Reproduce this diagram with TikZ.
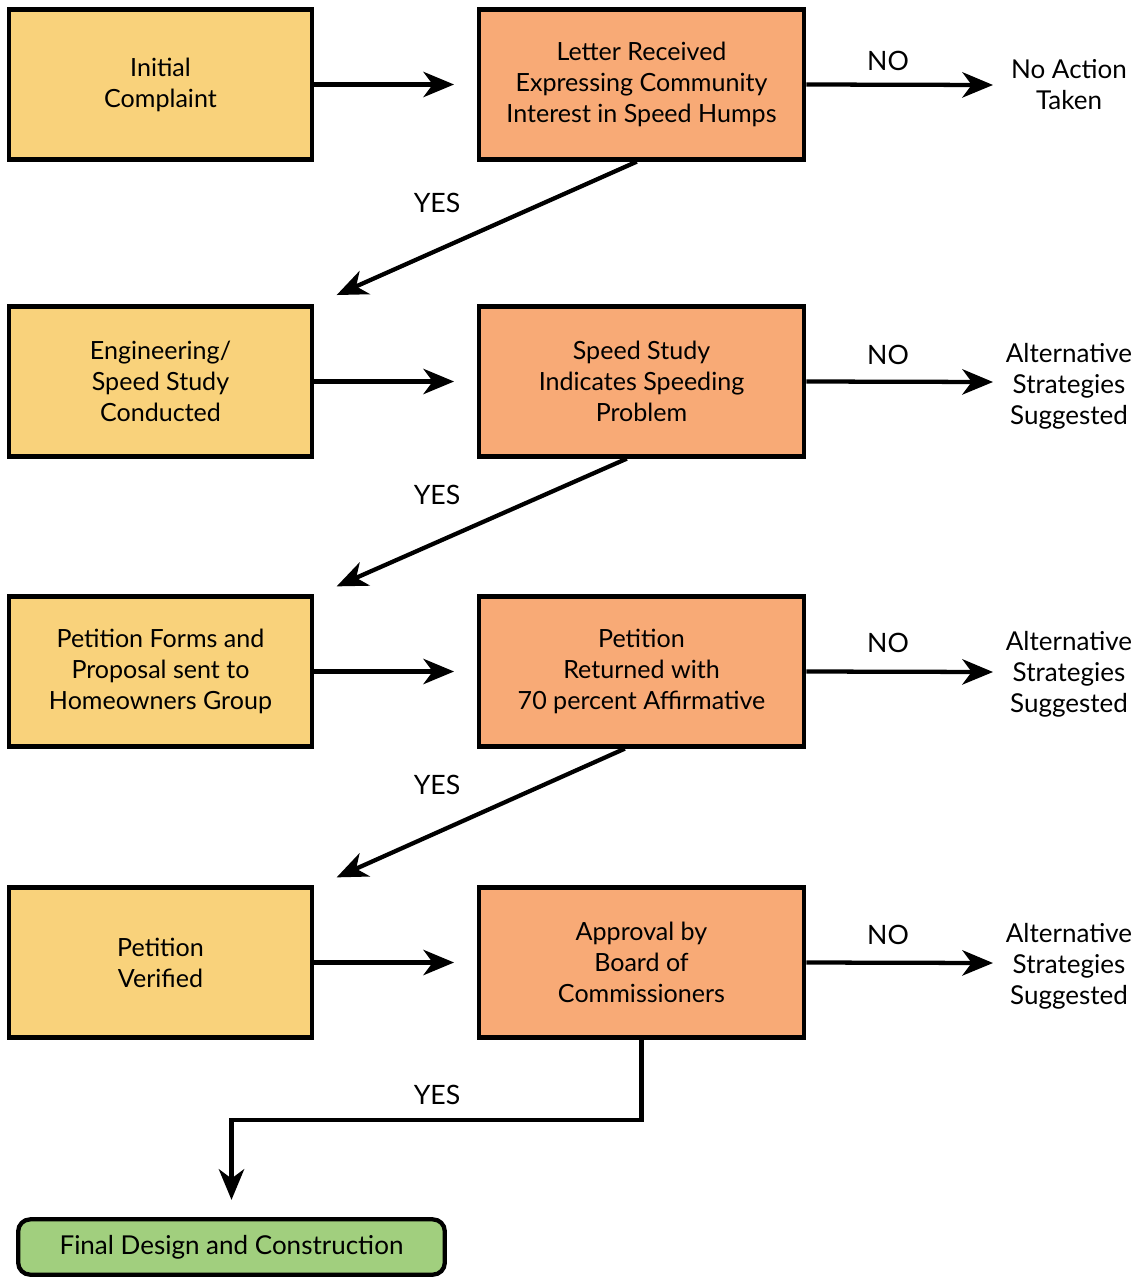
\documentclass[tikz,border=0pt]{standalone}
\usepackage{fontspec}
\setmainfont{Lato}
\usetikzlibrary{arrows.meta}
\definecolor{cyel}{HTML}{F9D27B}
\definecolor{corg}{HTML}{F8AA76}
\definecolor{cgrn}{HTML}{A1CF7E}
\tikzset{
  box/.style={draw=black, line width=3.2pt, align=center, inner sep=0pt,
    font=\fontsize{18.8pt}{23.25pt}\selectfont},
  ybox/.style={box, fill=cyel, minimum width=227pt, minimum height=112.5pt},
  obox/.style={box, fill=corg, minimum width=244pt, minimum height=112.5pt},
  gbox/.style={box, fill=cgrn, minimum width=320pt, minimum height=41.5pt, rounded corners=9pt,
    font=\fontsize{19.5pt}{23.25pt}\selectfont},
  lbl/.style={align=center, inner sep=0pt, font=\fontsize{19.5pt}{23.25pt}\selectfont},
  yn/.style={inner sep=0pt, font=\fontsize{20pt}{24pt}\selectfont},
  arr/.style={line width=3.2pt, -{Stealth[length=23pt, width=19pt, inset=7pt]}},
}
\begin{document}
\begin{tikzpicture}[x=0.75pt, y=-0.75pt]
\useasboundingbox (0,0) rectangle (1139,1277);
% left column
\node[ybox] (a1) at (160.5,84.5) {Initial\\Complaint};
\node[ybox] (a2) at (160.5,381.5) {Engineering/\\Speed Study\\Conducted};
\node[ybox] (a3) at (160.5,671.5) {Petition Forms and\\Proposal sent to\\Homeowners Group};
\node[ybox] (a4) at (160.5,962.5) {Petition\\Verified};
% decision column
\node[obox] (b1) at (641.5,84.5) {Letter Received\\Expressing Community\\Interest in Speed Humps};
\node[obox] (b2) at (641.5,381.5) {Speed Study\\Indicates Speeding\\Problem};
\node[obox] (b3) at (641.5,671.5) {Petition\\Returned with\\70 percent Affirmative};
\node[obox] (b4) at (641.5,962.5) {Approval by\\Board of\\Commissioners};
% outcomes
\node[lbl] (c1) at (1069,85) {No Action\\Taken};
\node[lbl] (c2) at (1069,386) {Alternative\\Strategies\\Suggested};
\node[lbl] (c3) at (1069,674) {Alternative\\Strategies\\Suggested};
\node[lbl] (c4) at (1069,966) {Alternative\\Strategies\\Suggested};
% final
\node[gbox] (f) at (231.5,1247) {Final Design and Construction};
% labels
\node[yn] (n1) at (888,61) {NO};
\node[yn] (n2) at (888,355) {NO};
\node[yn] (n3) at (888,643) {NO};
\node[yn] (n4) at (888,935) {NO};
\node[yn] (y1) at (437,203) {YES};
\node[yn] (y2) at (437,495) {YES};
\node[yn] (y3) at (437,785) {YES};
\node[yn] (y4) at (437,1095) {YES};
% horizontal arrows
\draw[arr, shorten >=17pt] (a1.east) -- (a1.east -| b1.west);
\draw[arr, shorten >=17pt] (a2.east) -- (a2.east -| b2.west);
\draw[arr, shorten >=17pt] (a3.east) -- (a3.east -| b3.west);
\draw[arr, shorten >=17pt] (a4.east) -- (a4.east -| b4.west);
\draw[arr] (b1.east) -- (993,85);
\draw[arr] (b2.east) -- (993,382);
\draw[arr] (b3.east) -- (993,672);
\draw[arr] (b4.east) -- (993,963);
% diagonal arrows
\draw[arr] ([xshift=-3.5pt]b1.south) -- ([xshift=17pt,yshift=7pt]a2.north east);
\draw[arr] ([xshift=-11pt]b2.south) -- ([xshift=17pt,yshift=6pt]a3.north east);
\draw[arr] ([xshift=-12.5pt]b3.south) -- ([xshift=17pt,yshift=6pt]a4.north east);
% final arrow
\draw[arr, shorten >=13pt] (b4.south) -- ++(0,80) -| (f.north);
\end{tikzpicture}
\end{document}
